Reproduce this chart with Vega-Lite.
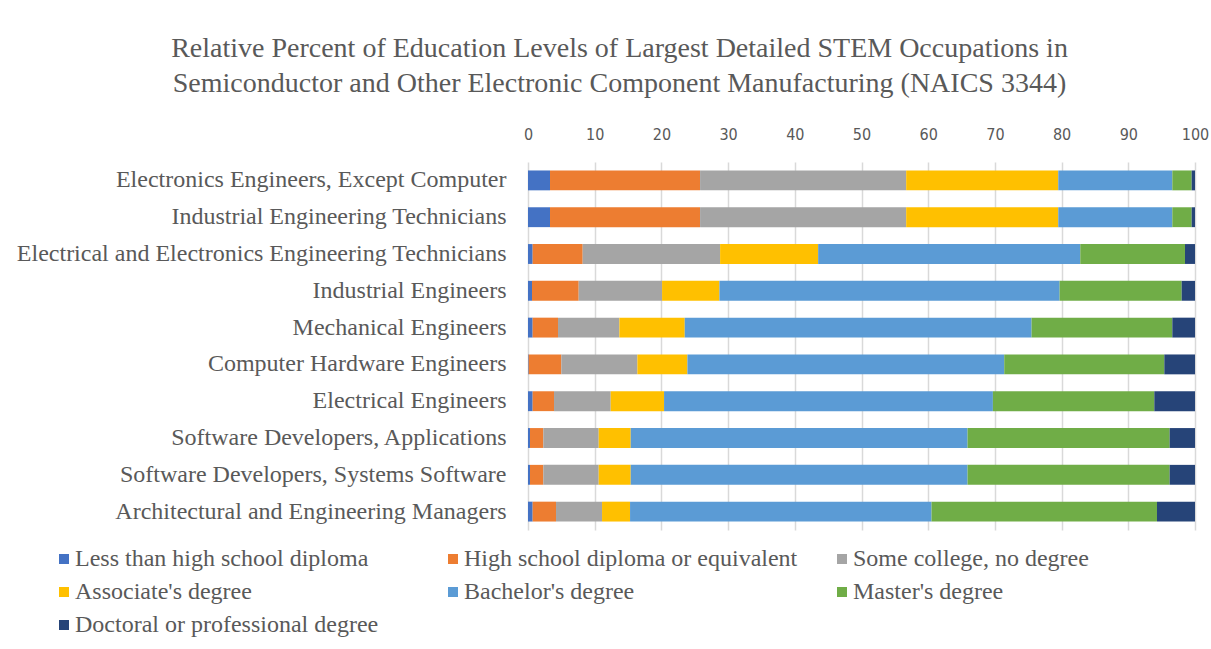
{
  "$schema": "https://vega.github.io/schema/vega-lite/v6.json",
  "width": 667,
  "height": 368,
  "autosize": {"type": "none"},
  "padding": {"left": 528, "top": 162, "right": 16, "bottom": 119},
  "background": "white",
  "title": {
    "text": ["Relative Percent of Education Levels of Largest Detailed STEM Occupations in", "Semiconductor and Other Electronic Component Manufacturing (NAICS 3344)"],
    "font": "Liberation Serif",
    "fontSize": 28,
    "fontWeight": "normal",
    "color": "#595959",
    "lineHeight": 35,
    "anchor": "middle",
    "frame": "group",
    "dx": -242,
    "offset": 28
  },
  "data": {"values": [
    {"occ": "Electronics Engineers, Except Computer", "level": "Less than high school diploma", "k": 1, "pct": 3.3},
    {"occ": "Electronics Engineers, Except Computer", "level": "High school diploma or equivalent", "k": 2, "pct": 22.5},
    {"occ": "Electronics Engineers, Except Computer", "level": "Some college, no degree", "k": 3, "pct": 30.9},
    {"occ": "Electronics Engineers, Except Computer", "level": "Associate's degree", "k": 4, "pct": 22.8},
    {"occ": "Electronics Engineers, Except Computer", "level": "Bachelor's degree", "k": 5, "pct": 17.1},
    {"occ": "Electronics Engineers, Except Computer", "level": "Master's degree", "k": 6, "pct": 2.9},
    {"occ": "Electronics Engineers, Except Computer", "level": "Doctoral or professional degree", "k": 7, "pct": 0.5},
    {"occ": "Industrial Engineering Technicians", "level": "Less than high school diploma", "k": 1, "pct": 3.3},
    {"occ": "Industrial Engineering Technicians", "level": "High school diploma or equivalent", "k": 2, "pct": 22.5},
    {"occ": "Industrial Engineering Technicians", "level": "Some college, no degree", "k": 3, "pct": 30.9},
    {"occ": "Industrial Engineering Technicians", "level": "Associate's degree", "k": 4, "pct": 22.8},
    {"occ": "Industrial Engineering Technicians", "level": "Bachelor's degree", "k": 5, "pct": 17.1},
    {"occ": "Industrial Engineering Technicians", "level": "Master's degree", "k": 6, "pct": 2.9},
    {"occ": "Industrial Engineering Technicians", "level": "Doctoral or professional degree", "k": 7, "pct": 0.5},
    {"occ": "Electrical and Electronics Engineering Technicians", "level": "Less than high school diploma", "k": 1, "pct": 0.7},
    {"occ": "Electrical and Electronics Engineering Technicians", "level": "High school diploma or equivalent", "k": 2, "pct": 7.5},
    {"occ": "Electrical and Electronics Engineering Technicians", "level": "Some college, no degree", "k": 3, "pct": 20.6},
    {"occ": "Electrical and Electronics Engineering Technicians", "level": "Associate's degree", "k": 4, "pct": 14.7},
    {"occ": "Electrical and Electronics Engineering Technicians", "level": "Bachelor's degree", "k": 5, "pct": 39.3},
    {"occ": "Electrical and Electronics Engineering Technicians", "level": "Master's degree", "k": 6, "pct": 15.7},
    {"occ": "Electrical and Electronics Engineering Technicians", "level": "Doctoral or professional degree", "k": 7, "pct": 1.5},
    {"occ": "Industrial Engineers", "level": "Less than high school diploma", "k": 1, "pct": 0.6},
    {"occ": "Industrial Engineers", "level": "High school diploma or equivalent", "k": 2, "pct": 7.0},
    {"occ": "Industrial Engineers", "level": "Some college, no degree", "k": 3, "pct": 12.5},
    {"occ": "Industrial Engineers", "level": "Associate's degree", "k": 4, "pct": 8.6},
    {"occ": "Industrial Engineers", "level": "Bachelor's degree", "k": 5, "pct": 51.0},
    {"occ": "Industrial Engineers", "level": "Master's degree", "k": 6, "pct": 18.3},
    {"occ": "Industrial Engineers", "level": "Doctoral or professional degree", "k": 7, "pct": 2.0},
    {"occ": "Mechanical Engineers", "level": "Less than high school diploma", "k": 1, "pct": 0.7},
    {"occ": "Mechanical Engineers", "level": "High school diploma or equivalent", "k": 2, "pct": 3.8},
    {"occ": "Mechanical Engineers", "level": "Some college, no degree", "k": 3, "pct": 9.2},
    {"occ": "Mechanical Engineers", "level": "Associate's degree", "k": 4, "pct": 9.8},
    {"occ": "Mechanical Engineers", "level": "Bachelor's degree", "k": 5, "pct": 52.0},
    {"occ": "Mechanical Engineers", "level": "Master's degree", "k": 6, "pct": 21.1},
    {"occ": "Mechanical Engineers", "level": "Doctoral or professional degree", "k": 7, "pct": 3.4},
    {"occ": "Computer Hardware Engineers", "level": "Less than high school diploma", "k": 1, "pct": 0.1},
    {"occ": "Computer Hardware Engineers", "level": "High school diploma or equivalent", "k": 2, "pct": 4.9},
    {"occ": "Computer Hardware Engineers", "level": "Some college, no degree", "k": 3, "pct": 11.4},
    {"occ": "Computer Hardware Engineers", "level": "Associate's degree", "k": 4, "pct": 7.5},
    {"occ": "Computer Hardware Engineers", "level": "Bachelor's degree", "k": 5, "pct": 47.5},
    {"occ": "Computer Hardware Engineers", "level": "Master's degree", "k": 6, "pct": 24.0},
    {"occ": "Computer Hardware Engineers", "level": "Doctoral or professional degree", "k": 7, "pct": 4.6},
    {"occ": "Electrical Engineers", "level": "Less than high school diploma", "k": 1, "pct": 0.7},
    {"occ": "Electrical Engineers", "level": "High school diploma or equivalent", "k": 2, "pct": 3.2},
    {"occ": "Electrical Engineers", "level": "Some college, no degree", "k": 3, "pct": 8.5},
    {"occ": "Electrical Engineers", "level": "Associate's degree", "k": 4, "pct": 8.0},
    {"occ": "Electrical Engineers", "level": "Bachelor's degree", "k": 5, "pct": 49.3},
    {"occ": "Electrical Engineers", "level": "Master's degree", "k": 6, "pct": 24.2},
    {"occ": "Electrical Engineers", "level": "Doctoral or professional degree", "k": 7, "pct": 6.1},
    {"occ": "Software Developers, Applications", "level": "Less than high school diploma", "k": 1, "pct": 0.3},
    {"occ": "Software Developers, Applications", "level": "High school diploma or equivalent", "k": 2, "pct": 2.0},
    {"occ": "Software Developers, Applications", "level": "Some college, no degree", "k": 3, "pct": 8.3},
    {"occ": "Software Developers, Applications", "level": "Associate's degree", "k": 4, "pct": 4.8},
    {"occ": "Software Developers, Applications", "level": "Bachelor's degree", "k": 5, "pct": 50.5},
    {"occ": "Software Developers, Applications", "level": "Master's degree", "k": 6, "pct": 30.3},
    {"occ": "Software Developers, Applications", "level": "Doctoral or professional degree", "k": 7, "pct": 3.8},
    {"occ": "Software Developers, Systems Software", "level": "Less than high school diploma", "k": 1, "pct": 0.3},
    {"occ": "Software Developers, Systems Software", "level": "High school diploma or equivalent", "k": 2, "pct": 2.0},
    {"occ": "Software Developers, Systems Software", "level": "Some college, no degree", "k": 3, "pct": 8.3},
    {"occ": "Software Developers, Systems Software", "level": "Associate's degree", "k": 4, "pct": 4.8},
    {"occ": "Software Developers, Systems Software", "level": "Bachelor's degree", "k": 5, "pct": 50.5},
    {"occ": "Software Developers, Systems Software", "level": "Master's degree", "k": 6, "pct": 30.3},
    {"occ": "Software Developers, Systems Software", "level": "Doctoral or professional degree", "k": 7, "pct": 3.8},
    {"occ": "Architectural and Engineering Managers", "level": "Less than high school diploma", "k": 1, "pct": 0.7},
    {"occ": "Architectural and Engineering Managers", "level": "High school diploma or equivalent", "k": 2, "pct": 3.5},
    {"occ": "Architectural and Engineering Managers", "level": "Some college, no degree", "k": 3, "pct": 6.9},
    {"occ": "Architectural and Engineering Managers", "level": "Associate's degree", "k": 4, "pct": 4.2},
    {"occ": "Architectural and Engineering Managers", "level": "Bachelor's degree", "k": 5, "pct": 45.2},
    {"occ": "Architectural and Engineering Managers", "level": "Master's degree", "k": 6, "pct": 33.8},
    {"occ": "Architectural and Engineering Managers", "level": "Doctoral or professional degree", "k": 7, "pct": 5.7}
  ]},
  "mark": {"type": "bar"},
  "encoding": {
    "y": {
      "field": "occ",
      "type": "nominal",
      "sort": ["Electronics Engineers, Except Computer", "Industrial Engineering Technicians", "Electrical and Electronics Engineering Technicians", "Industrial Engineers", "Mechanical Engineers", "Computer Hardware Engineers", "Electrical Engineers", "Software Developers, Applications", "Software Developers, Systems Software", "Architectural and Engineering Managers"],
      "scale": {"paddingInner": 0.46, "paddingOuter": 0.23},
      "axis": {
        "title": null,
        "ticks": false,
        "domain": false,
        "labelFont": "Liberation Serif",
        "labelFontSize": 24,
        "labelColor": "#595959",
        "labelPadding": 22,
        "labelLimit": 600
      }
    },
    "x": {
      "field": "pct",
      "type": "quantitative",
      "stack": "zero",
      "scale": {"domain": [0, 100], "nice": false},
      "axis": {
        "orient": "top",
        "title": null,
        "values": [0, 10, 20, 30, 40, 50, 60, 70, 80, 90, 100],
        "ticks": false,
        "domain": false,
        "grid": true,
        "gridColor": "#d9d9d9",
        "gridWidth": 1.5,
        "labelFont": "DejaVu Sans Condensed",
        "labelFontSize": 16,
        "labelColor": "#595959",
        "labelPadding": 20,
        "labelFlush": false
      }
    },
    "color": {
      "field": "level",
      "type": "nominal",
      "scale": {
        "domain": ["Less than high school diploma", "High school diploma or equivalent", "Some college, no degree", "Associate's degree", "Bachelor's degree", "Master's degree", "Doctoral or professional degree"],
        "range": ["#4472C4", "#ED7D31", "#A5A5A5", "#FFC000", "#5B9BD5", "#70AD47", "#264478"]
      },
      "legend": {
        "title": null,
        "orient": "none",
        "legendX": -476,
        "legendY": 385,
        "direction": "horizontal",
        "columns": 3,
        "gridAlign": "all",
        "columnPadding": 32,
        "rowPadding": 9,
        "symbolType": "square",
        "symbolSize": 100,
        "symbolStrokeWidth": 0,
        "labelOffset": -1,
        "labelFont": "Liberation Serif",
        "labelFontSize": 24,
        "labelColor": "#595959",
        "labelLimit": 500
      }
    },
    "order": {"field": "k", "type": "quantitative"}
  },
  "config": {"view": {"stroke": null}}
}
